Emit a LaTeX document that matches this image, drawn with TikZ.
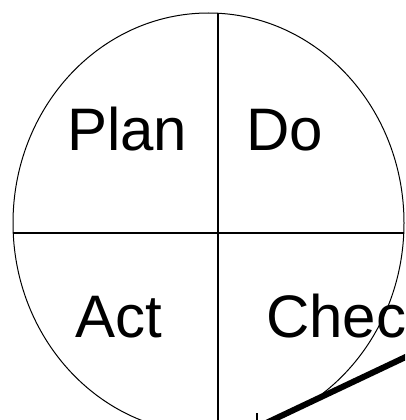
\documentclass[tikz,border=0pt]{standalone}
\usepackage{fontspec}
\setmainfont{Liberation Sans}
\begin{document}
\begin{tikzpicture}[x=1pt,y=-1pt,
  label/.style={inner sep=0pt,anchor=base west,font=\fontsize{60}{60}\selectfont},
  thinline/.style={line width=1pt},
  crossline/.style={line width=1.4pt},
  thickline/.style={line width=6pt}]
\useasboundingbox (0,0) rectangle (405,420);
\clip (0,0) rectangle (405,420);
\coordinate (ctr) at (208.5,223);
\draw[thinline] (ctr) ellipse [x radius=195.5, y radius=210];
\coordinate (vtop) at (218,13.3);
\coordinate (vbot) at (218,430);
\coordinate (hl) at (13,233);
\coordinate (hr) at (404,233);
\draw[crossline] (vtop) -- (vbot);
\draw[crossline] (hl) -- (hr);
\node[label] (plan) at (67,150) {Plan};
\node[label] (do) at (246,150) {Do};
\node[label] (act) at (75,337) {Act};
\node[label] (check) at (266,337) {Check};
\coordinate (a1) at (263,424.5);
\coordinate (a2) at (412,354);
\draw[thickline] (a1) -- (a2);
\coordinate (t1) at (257,413);
\coordinate (t2) at (257,422);
\draw[crossline] (t1) -- (t2);
\end{tikzpicture}
\end{document}
